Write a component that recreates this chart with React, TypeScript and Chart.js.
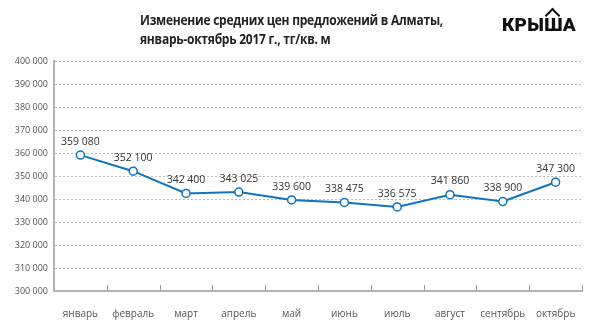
import React, { useEffect, useRef } from "react";
import { Chart, registerables } from "chart.js";

Chart.register(...registerables);

const months = ["январь", "февраль", "март", "апрель", "май", "июнь", "июль", "август", "сентябрь", "октябрь"];
const prices = [359080, 352100, 342400, 343025, 339600, 338475, 336575, 341860, 338900, 347300];
const yMin = 300000;
const yMax = 400000;
const yStep = 10000;

const fmt = (v: number) => String(Math.round(v)).replace(/\B(?=(\d{3})+(?!\d))/g, " ");

const LINE = "#0f73bf";

const valueLabels = {
  id: "valueLabels",
  afterDatasetsDraw(chart: any) {
    const ctx = chart.ctx;
    const meta = chart.getDatasetMeta(0);
    ctx.save();
    ctx.font = "10.5px 'Open Sans'";
    ctx.fillStyle = "#333";
    ctx.textAlign = "center";
    ctx.textBaseline = "bottom";
    meta.data.forEach((pt: any, i: number) => {
      ctx.fillText(fmt(prices[i]), pt.x, pt.y - 8);
    });
    ctx.restore();
  },
};

const innerTicks = {
  id: "innerTicks",
  afterDraw(chart: any) {
    const ctx = chart.ctx;
    const xs = chart.scales.x;
    const area = chart.chartArea;
    const n = months.length;
    const half = (xs.getPixelForValue(1) - xs.getPixelForValue(0)) / 2;
    ctx.save();
    ctx.strokeStyle = "#9a9a9a";
    ctx.lineWidth = 1;
    for (let i = 1; i <= n; i++) {
      const x = Math.round(xs.getPixelForValue(i - 1) + half) + 0.5;
      ctx.beginPath();
      ctx.moveTo(x, area.bottom);
      ctx.lineTo(x, area.bottom - 6);
      ctx.stroke();
    }
    ctx.restore();
  },
};

export default function App() {
  const ref = useRef<HTMLCanvasElement>(null);
  useEffect(() => {
    const chart = new Chart(ref.current!, {
      type: "line",
      data: {
        labels: months,
        datasets: [
          {
            data: prices,
            borderColor: LINE,
            borderWidth: 2,
            pointBackgroundColor: "#fff",
            pointBorderColor: LINE,
            pointBorderWidth: 1.5,
            pointRadius: 4,
            tension: 0,
          },
        ],
      },
      options: {
        responsive: false,
        animation: false,
        layout: { padding: { top: 61, right: 8, left: 0, bottom: 0 } },
        plugins: { legend: { display: false }, tooltip: { enabled: false } },
        scales: {
          x: {
            offset: true,
            grid: { display: false },
            border: { color: "#b3b3b3", width: 2 },
            ticks: { color: "#555", font: { family: "'Open Sans'", size: 10 }, padding: 9, maxRotation: 0, autoSkip: false },
            afterFit: (s: any) => { s.height = 31; },
          },
          y: {
            min: yMin,
            max: yMax,
            grid: { color: "#bdbdbd", lineWidth: 1, drawTicks: false },
            border: { color: "#b3b3b3", width: 2, dash: [2, 2] },
            ticks: { stepSize: yStep, color: "#555", font: { family: "'Open Sans'", size: 9 }, padding: 6, callback: (v: any) => fmt(Number(v)) },
            afterFit: (s: any) => { s.width = 54; },
          },
        },
      },
      plugins: [valueLabels, innerTicks],
    });
    return () => chart.destroy();
  }, []);

  return (
    <div style={{ position: "absolute", left: 0, top: 0, width: 590, height: 322, background: "#fff", overflow: "hidden" }}>
      <canvas ref={ref} width={590} height={322} style={{ position: "absolute", left: 0, top: 0 }} />
      <div style={{ position: "absolute", left: 140, top: 10, fontFamily: "'Open Sans'", fontWeight: 700, fontSize: 15, lineHeight: "19px", color: "#222", letterSpacing: -0.3, whiteSpace: "nowrap", transform: "scaleX(0.8)", transformOrigin: "left top" }}>
        <div>Изменение средних цен предложений в Алматы,</div>
        <div>январь-октябрь 2017 г., тг/кв. м</div>
      </div>
      <div style={{ position: "absolute", left: 502, top: 13, fontFamily: "Roboto", fontWeight: 900, fontSize: 19, color: "#111", letterSpacing: 0.3, whiteSpace: "nowrap" }}>
        КРЫ
        <span style={{ position: "relative", display: "inline-block" }}>
          Ш
          <span style={{ position: "absolute", left: 3, top: -3, width: 9, height: 9, borderLeft: "2.5px solid #111", borderTop: "2.5px solid #111", transform: "rotate(45deg)" }} />
        </span>
        А
      </div>
    </div>
  );
}
